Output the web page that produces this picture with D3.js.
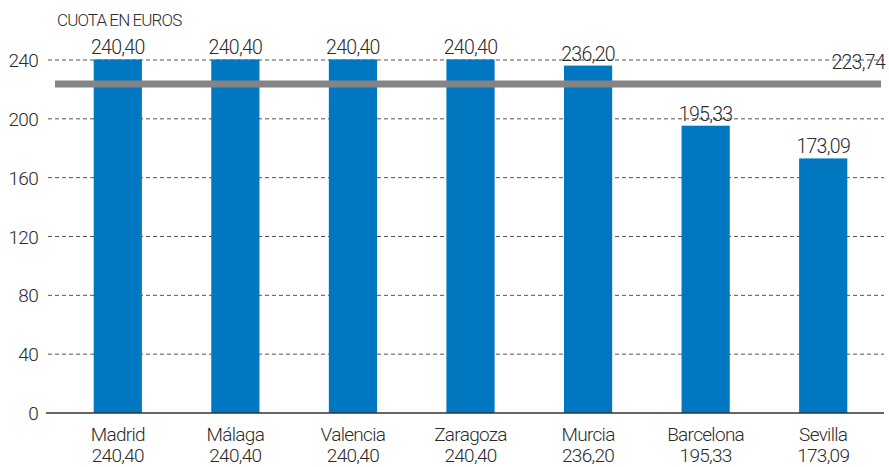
<!DOCTYPE html>
<html>
<head>
<meta charset="utf-8">
<script src="https://cdn.jsdelivr.net/npm/d3@7"></script>
<style>
    body { margin: 0; background: #fff; }
    svg text { font-family: Roboto, "DejaVu Sans Condensed", sans-serif; font-weight: 300; fill: #2b2b2b; letter-spacing: -0.7px; }
    .grid line { stroke: #555; stroke-width: 1; stroke-dasharray: 4 3; }
    .zero { stroke: #333; stroke-width: 1.5; }
</style>
</head>
<body>
<svg id="chart" width="889" height="467"></svg>
<script>
const cities = ["Madrid", "Málaga", "Valencia", "Zaragoza", "Murcia", "Barcelona", "Sevilla"];
const cuota = [240.40, 240.40, 240.40, 240.40, 236.20, 195.33, 173.09];
const average = 223.74;
const yTicks = [0, 40, 80, 120, 160, 200, 240];
const title = "CUOTA EN EUROS";

const fmt = v => d3.format(".2f")(v).replace(".", ",");

const svg = d3.select("#chart");

const x = d3.scaleBand().domain(cities).range([59, 882]).paddingInner(0.59).paddingOuter(0.295);
const y = d3.scaleLinear().domain([0, 240]).range([413, 60]);

// grid
let grid = svg.append("g").attr("class", "grid");
grid.selectAll("line")
    .data(yTicks.filter(d => d > 0))
    .join("line")
    .attr("x1", 48).attr("x2", 884)
    .attr("y1", d => y(d)).attr("y2", d => y(d));

// y tick labels
svg.append("g").selectAll("text")
    .data(yTicks)
    .join("text")
    .attr("x", 38)
    .attr("y", d => y(d) + 7)
    .attr("text-anchor", "end")
    .attr("font-size", 19)
    .text(d => d);

svg.append("text")
    .attr("x", 57).attr("y", 26)
    .attr("font-size", 17)
    .style("letter-spacing", "-0.9px")
    .text(title);

// bars
svg.append("g").selectAll("rect")
    .data(cities)
    .join("rect")
    .attr("x", d => x(d))
    .attr("width", x.bandwidth())
    .attr("y", (d, i) => y(cuota[i]))
    .attr("height", (d, i) => y(0) - y(cuota[i]))
    .attr("fill", "#0077c0");

// value labels above bars
svg.append("g").selectAll("text")
    .data(cities)
    .join("text")
    .attr("x", d => x(d) + x.bandwidth() / 2)
    .attr("y", (d, i) => y(cuota[i]) - 5)
    .attr("text-anchor", "middle")
    .attr("font-size", 19.5)
    .text((d, i) => fmt(cuota[i]));

// average line
svg.append("line")
    .attr("x1", 55).attr("x2", 881)
    .attr("y1", y(average)).attr("y2", y(average))
    .attr("stroke", "#848486")
    .attr("stroke-width", 7);
svg.append("text")
    .attr("x", 885).attr("y", y(average) - 15)
    .attr("text-anchor", "end")
    .attr("font-size", 19.5)
    .text(fmt(average));

svg.append("line").attr("class", "zero")
    .attr("x1", 46).attr("x2", 884)
    .attr("y1", y(0)).attr("y2", y(0));

// category labels
let cat = svg.append("g").selectAll("text")
    .data(cities)
    .join("text")
    .attr("text-anchor", "middle")
    .attr("font-size", 19);
cat.append("tspan")
    .attr("x", d => x(d) + x.bandwidth() / 2)
    .attr("y", 441)
    .text(d => d);
cat.append("tspan")
    .attr("x", d => x(d) + x.bandwidth() / 2)
    .attr("y", 462)
    .text((d, i) => fmt(cuota[i]));
</script>
</body>
</html>
